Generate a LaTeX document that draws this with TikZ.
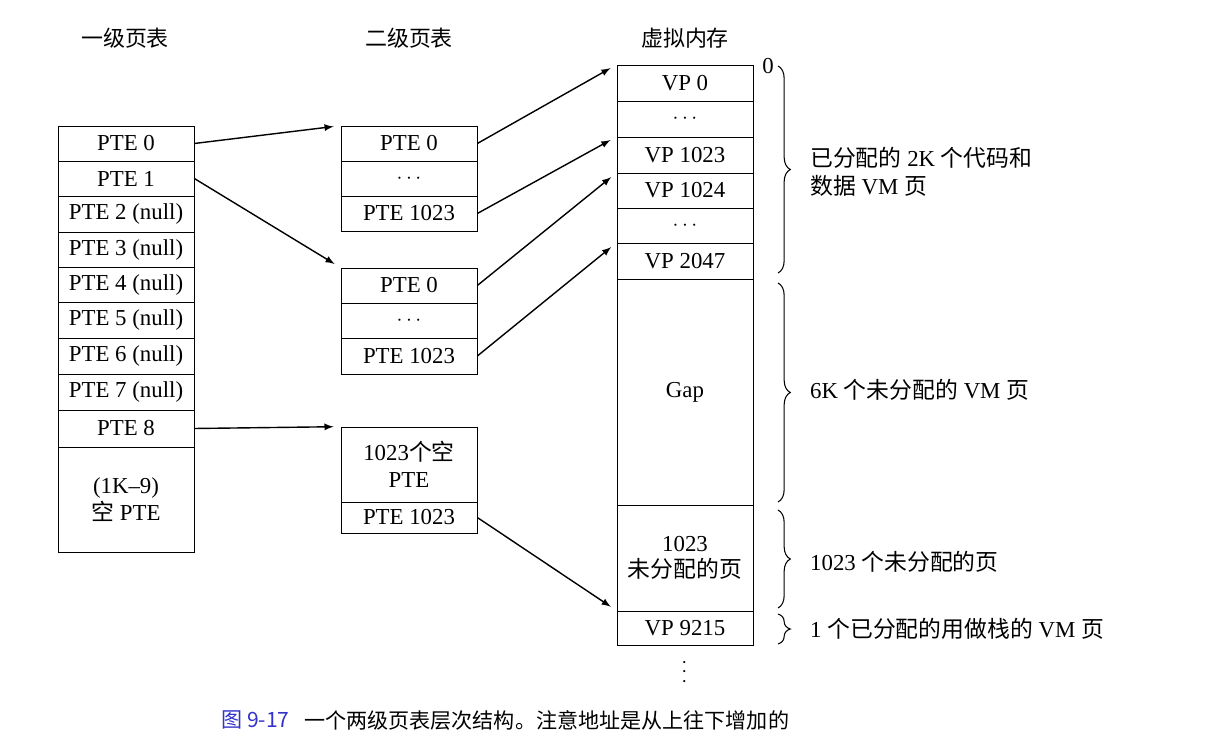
\documentclass[tikz,border=0pt]{standalone}
\usepackage{fontspec}
\setmainfont{Liberation Serif}
\newfontfamily\cjk{Noto Sans CJK SC}
\usetikzlibrary{decorations.pathreplacing}
\tikzset{
  cell/.style={draw=black,fill=white,minimum width=2.72cm,inner sep=0pt,font=\fontsize{13}{15}\selectfont,align=center},
  link/.style={->,>=latex,thick,shorten >=4pt},
  brc/.style={decorate,decoration={brace,amplitude=7pt},semithick},
  note/.style={anchor=west,font=\fontsize{13}{16}\selectfont,align=left}
}
\begin{document}
\begin{tikzpicture}[x=0.02cm,y=-0.02cm]
  \useasboundingbox (0,0) rectangle (1206,742);
  % headers
  \node[font=\cjk\fontsize{12.5}{14}\selectfont](H1) at (125,38) {一级页表};
  \node[font=\cjk\fontsize{12.5}{14}\selectfont](H2) at (409,38) {二级页表};
  \node[font=\cjk\fontsize{12.5}{14}\selectfont](H3) at (685,38) {虚拟内存};

  % level 1 table
  \node[cell,minimum height=0.7cm](L0) at (126,143.5) {PTE 0};
  \node[cell,minimum height=0.7cm](L1) at (126,178.5) {PTE 1};
  \foreach \i/\y in {2/214,3/250,4/285.5,5/320.5,6/356,7/392}
    \node[cell,minimum height=0.72cm](L\i) at (126,\y) {PTE \i\ (null)};
  \node[cell,minimum height=0.74cm](L8) at (126,428.5) {PTE 8};
  \node[cell,minimum height=2.1cm](L9) at (126,499.5) {(1K--9)\\{\cjk 空} PTE};

  % level 2 tables
  \node[cell,minimum height=0.7cm](A0) at (409,143.5) {PTE 0};
  \node[cell,minimum height=0.7cm](A1) at (409,178.5) {$\cdots$};
  \node[cell,minimum height=0.7cm](A2) at (409,213.5) {PTE 1023};
  \node[cell,minimum height=0.7cm](B0) at (409,285.5) {PTE 0};
  \node[cell,minimum height=0.7cm](B1) at (409,320.5) {$\cdots$};
  \node[cell,minimum height=0.72cm](B2) at (409,356) {PTE 1023};
  \node[cell,minimum height=1.5cm](C0) at (409,464.5) {1023{\cjk 个空}\\PTE};
  \node[cell,minimum height=0.62cm](C1) at (409,517.5) {PTE 1023};

  % virtual memory
  \node[cell,minimum height=0.72cm](V0) at (685,83) {VP 0};
  \node[cell,minimum height=0.72cm](V1) at (685,119) {$\cdots$};
  \node[cell,minimum height=0.72cm](V2) at (685,155) {VP 1023};
  \node[cell,minimum height=0.7cm](V3) at (685,190.5) {VP 1024};
  \node[cell,minimum height=0.7cm](V4) at (685,225.5) {$\cdots$};
  \node[cell,minimum height=0.72cm](V5) at (685,261) {VP 2047};
  \node[cell,minimum height=4.52cm](V6) at (685,392) {Gap};
  \node[cell,minimum height=2.12cm](V7) at (685,558) {1023\\{\cjk 未分配的页}};
  \node[cell,minimum height=0.68cm](V8) at (685,628) {VP 9215};
  \node[font=\fontsize{13}{15}\selectfont,rotate=90](Vd) at (685,672) {$\cdots$};

  % pointers
  \draw[link] (L0.east) -- (A0.north west);
  \draw[link] (L1.east) -- (B0.north west);
  \draw[link] (L8.east) -- (C0.north west);
  \draw[link] (A0.east) -- (V0.north west);
  \draw[link] (A2.east) -- (V2.north west);
  \draw[link] (B0.east) -- (V3.north west);
  \draw[link] (B2.east) -- (V5.north west);
  \draw[link] (C1.east) -- (V8.north west);

  % braces
  \node[font=\fontsize{13}{15}\selectfont](Z) at (768,66) {0};
  \coordinate (b1a) at (778,66);  \coordinate (b1b) at (778,273);
  \coordinate (b2a) at (778,283); \coordinate (b2b) at (778,502);
  \coordinate (b3a) at (778,510); \coordinate (b3b) at (778,608);
  \coordinate (b4a) at (778,614); \coordinate (b4b) at (778,644);
  \draw[brc] (b1a) -- (b1b);
  \draw[brc] (b2a) -- (b2b);
  \draw[brc] (b3a) -- (b3b);
  \draw[brc] (b4a) -- (b4b);
  \node[note](N1) at (804,172) {{\cjk 已分配的} 2K {\cjk 个代码和}\\{\cjk 数据} VM {\cjk 页}};
  \node[note](N2) at (804,390) {6K {\cjk 个未分配的} VM {\cjk 页}};
  \node[note](N3) at (804,562) {1023 {\cjk 个未分配的页}};
  \node[note](N4) at (804,629) {1 {\cjk 个已分配的用做栈的} VM {\cjk 页}};

  % caption
  \node[anchor=west,font=\cjk\fontsize{12}{14}\selectfont,text=blue!60!gray](Cap1) at (215,720) {图 9-17};
  \node[anchor=west,font=\cjk\fontsize{12}{14}\selectfont](Cap2) at (298,720) {一个两级页表层次结构。注意地址是从上往下增加的};
\end{tikzpicture}
\end{document}
